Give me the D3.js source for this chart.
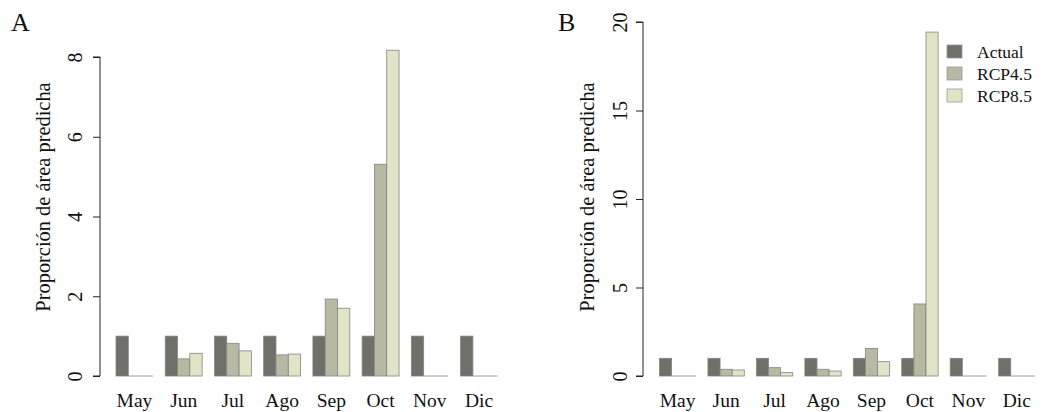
<!DOCTYPE html>
<html lang="es">
<head>
    <meta charset="UTF-8">
    <title>proporcion-area</title>
    <script src="https://cdn.jsdelivr.net/npm/d3@7.8.5/dist/d3.min.js"></script>
    <style>
        body { margin: 0; background: #fff; }
        text { font-family: "Liberation Serif", "DejaVu Serif", serif; fill: #111; }
    </style>
</head>
<body>
<div id="container"></div>
<script>
    // datos
    const meses = ["May", "Jun", "Jul", "Ago", "Sep", "Oct", "Nov", "Dic"];
    const series = ["Actual", "RCP4.5", "RCP8.5"];
    const colores = ["#6f706a", "#b7b9a3", "#e1e4c6"];

    const actualA = [1, 1, 1, 1, 1, 1, 1, 1];
    const rcp45A = [0, 0.43, 0.82, 0.53, 1.93, 5.31, 0, 0];
    const rcp85A = [0, 0.57, 0.63, 0.55, 1.70, 8.17, 0, 0];
    const ticksA = [0, 2, 4, 6, 8];

    const actualB = [1, 1, 1, 1, 1, 1, 1, 1];
    const rcp45B = [0, 0.38, 0.47, 0.38, 1.56, 4.07, 0, 0];
    const rcp85B = [0, 0.34, 0.19, 0.28, 0.81, 19.43, 0, 0];
    const ticksB = [0, 5, 10, 15, 20];

    const svg = d3.select("#container")
        .append("svg")
        .attr("width", 1044)
        .attr("height", 412);

    function panel(cfg) {
        const g = svg.append("g");
        const yScale = d3.scaleLinear()
            .domain([0, cfg.ymax])
            .range([376, cfg.yTop]);
        const x0 = d3.scaleBand()
            .domain(meses)
            .range(cfg.xRange)
            .paddingInner(0.25)
            .paddingOuter(0);
        const x1 = d3.scaleBand()
            .domain(series)
            .range([0, x0.bandwidth()]);

        const tabla = meses.map((m, i) => ({
            mes: m,
            vals: [cfg.data[0][i], cfg.data[1][i], cfg.data[2][i]]
        }));

        // barras
        const grupos = g.selectAll("g.grupo")
            .data(tabla)
            .join("g")
            .attr("class", "grupo")
            .attr("transform", d => `translate(${x0(d.mes)},0)`);
        grupos.selectAll("rect")
            .data(d => d.vals.map((v, j) => ({serie: series[j], v: v, j: j})).filter(d => d.v > 0))
            .join("rect")
            .attr("x", d => x1(d.serie))
            .attr("y", d => yScale(d.v))
            .attr("width", x1.bandwidth())
            .attr("height", d => yScale(0) - yScale(d.v))
            .attr("fill", d => colores[d.j])
            .attr("stroke", "#858580")
            .attr("stroke-width", 0.8);
        // valores cero: solo el borde
        grupos.selectAll("line")
            .data(d => d.vals.map((v, j) => ({serie: series[j], v: v})).filter(d => d.v === 0))
            .join("line")
            .attr("x1", d => x1(d.serie))
            .attr("x2", d => x1(d.serie) + x1.bandwidth())
            .attr("y1", yScale(0))
            .attr("y2", yScale(0))
            .attr("stroke", "#858580")
            .attr("stroke-width", 0.8);

        // eje y
        const yAxis = d3.axisLeft(yScale)
            .tickValues(cfg.ticks)
            .tickSize(7)
            .tickPadding(0)
            .tickFormat(d3.format("d"));
        const ax = g.append("g")
            .attr("transform", `translate(${cfg.axisX},0)`)
            .call(yAxis);
        ax.select(".domain").attr("stroke", "#222").attr("d", `M-7,${yScale(cfg.ticks[cfg.ticks.length - 1])}H0V${yScale(0)}H-7`);
        ax.selectAll(".tick line").attr("stroke", "#222");
        ax.selectAll(".tick text")
            .attr("x", 0)
            .attr("y", 0)
            .attr("transform", `translate(${cfg.tickLabelX - cfg.axisX},0) rotate(-90)`)
            .attr("text-anchor", "middle")
            .attr("dy", "0.35em")
            .style("font-family", "Liberation Serif, serif")
            .style("font-size", "20px")
            .attr("fill", "#111");

        // etiquetas de meses
        g.selectAll("text.mes")
            .data(meses)
            .join("text")
            .attr("class", "mes")
            .attr("x", d => x0(d) + x0.bandwidth() / 2)
            .attr("y", 407)
            .attr("text-anchor", "middle")
            .style("font-size", "19.5px")
            .text(d => d);

        // título eje
        g.append("text")
            .attr("transform", `translate(${cfg.titleX},197) rotate(-90)`)
            .attr("text-anchor", "middle")
            .attr("dy", "0.35em")
            .style("font-size", "20.4px")
            .text("Proporción de área predicha");

        // letra del panel
        g.append("text")
            .attr("x", cfg.letterX)
            .attr("y", 31)
            .style("font-size", "26px")
            .text(cfg.letter);
    }

    panel({
        letter: "A", letterX: 11,
        data: [actualA, rcp45A, rcp85A],
        ticks: ticksA, ymax: 8, yTop: 57,
        xRange: [116, 497.5],
        axisX: 100, tickLabelX: 75, titleX: 43
    });

    panel({
        letter: "B", letterX: 558,
        data: [actualB, rcp45B, rcp85B],
        ticks: ticksB, ymax: 20, yTop: 22,
        xRange: [659.5, 1035],
        axisX: 643, tickLabelX: 620, titleX: 587
    });

    // leyenda
    const ley = svg.append("g").attr("transform", "translate(947,52)");
    series.forEach((s, i) => {
        ley.append("rect")
            .attr("x", 0)
            .attr("y", i * 22 - 7)
            .attr("width", 15)
            .attr("height", 13)
            .attr("fill", colores[i])
            .attr("stroke", "#9a9a95")
            .attr("stroke-width", 0.8);
        ley.append("text")
            .attr("x", 30)
            .attr("y", i * 22)
            .attr("dy", "0.35em")
            .style("font-size", "17.5px")
            .text(s);
    });
</script>
</body>
</html>
